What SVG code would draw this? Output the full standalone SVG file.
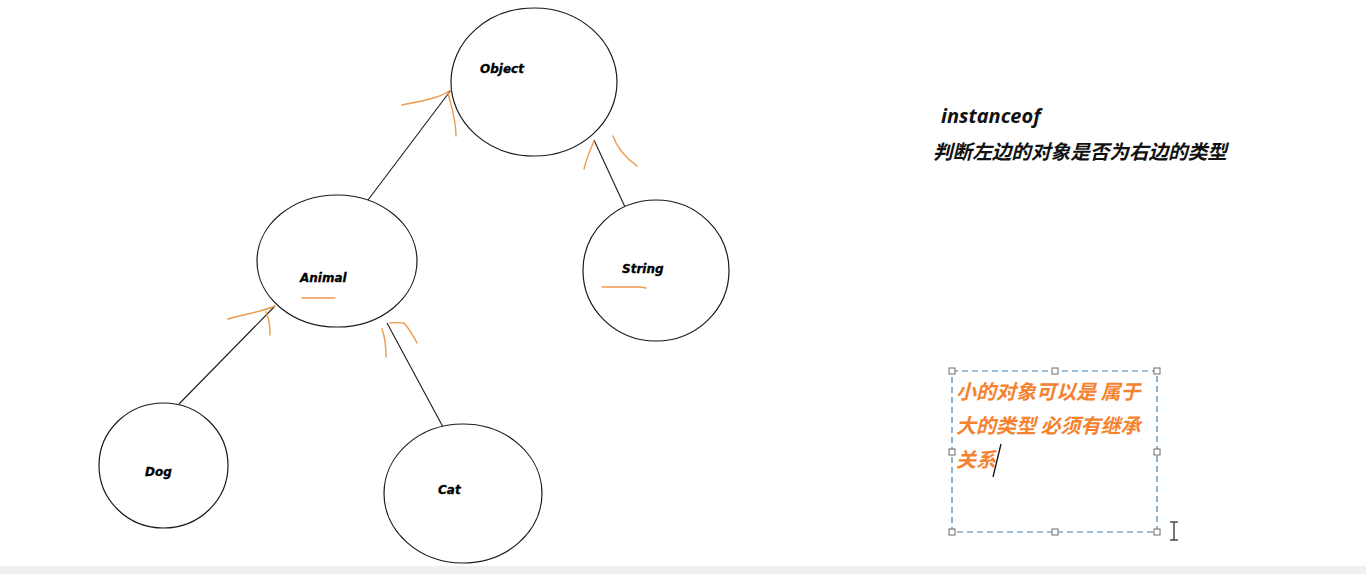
<svg xmlns="http://www.w3.org/2000/svg" width="1366" height="574" viewBox="0 0 1366 574">
  <style>
    .node { fill: #ffffff; stroke: #1a1a1a; stroke-width: 1.2; }
    .label { font-family: "DejaVu Sans", Verdana, sans-serif; font-size: 12px; font-weight: bold; font-style: italic; fill: #000000; stroke: #000000; stroke-width: 0.3; }
    .edge { stroke: #1a1a1a; stroke-width: 1.1; fill: none; }
    .ink { stroke: #ee9a4c; stroke-width: 1.4; fill: none; stroke-linecap: round; stroke-linejoin: round; }
    .note { font-family: "Noto Sans CJK SC", sans-serif; font-size: 20px; font-weight: bold; font-style: italic; fill: #f5822f; }
    .handle { fill: #ffffff; stroke: #6b6b6b; stroke-width: 1; }
  </style>

  <rect x="0" y="0" width="1366" height="574" fill="#ffffff"/>
  <rect x="0" y="566" width="1366" height="8" fill="#f0f0f0"/>

  <!-- inheritance links -->
  <g id="connectors">
    <line class="edge" x1="368" y1="200" x2="451" y2="90"/>
    <line class="edge" x1="594" y1="140" x2="625" y2="207"/>
    <line class="edge" x1="275" y1="306" x2="179" y2="404"/>
    <line class="edge" x1="387" y1="323" x2="443" y2="427"/>
  </g>

  <g id="object">
    <ellipse class="node" cx="534" cy="82" rx="83" ry="74"/>
    <text class="label" x="480" y="73">Object</text>
  </g>
  <g id="animal">
    <ellipse class="node" cx="337" cy="261" rx="80" ry="66"/>
    <text class="label" x="300" y="282">Animal</text>
  </g>
  <g id="string">
    <ellipse class="node" cx="656" cy="270.5" rx="73" ry="70.5"/>
    <text class="label" x="622" y="273">String</text>
  </g>
  <g id="dog">
    <ellipse class="node" cx="163.5" cy="465.5" rx="64.5" ry="62.5"/>
    <text class="label" x="145" y="476">Dog</text>
  </g>
  <g id="cat">
    <ellipse class="node" cx="463" cy="493.5" rx="79" ry="69.5"/>
    <text class="label" x="438" y="494">Cat</text>
  </g>

  <!-- hand-drawn arrow marks and underlines -->
  <g id="marks">
    <path class="ink" d="M402,105 C420,101 438,99 451,90"/>
    <path class="ink" d="M448,93 C451,106 456,118 456,136"/>
    <path class="ink" d="M594,141 C590,150 586,160 584,169"/>
    <path class="ink" d="M613,136 C617,148 626,158 637,166"/>
    <path class="ink" d="M228,319 C244,314 262,312 275,306"/>
    <path class="ink" d="M266,312 C270,320 270,328 270,335"/>
    <path class="ink" d="M382,329 C385,337 386,347 386,357"/>
    <path class="ink" d="M390,323 C396,322 401,323 404,323 C410,330 414,337 417,343"/>
    <path class="ink" d="M302,298 L335,298"/>
    <path class="ink" d="M602,287 L640,287 L646,288"/>
  </g>

  <!-- heading -->
  <g id="heading">
    <text x="941" y="123" font-family="'Open Sans', sans-serif" font-size="20" font-weight="bold" font-style="italic" fill="#111111">instanceof</text>
    <text x="933" y="159" font-family="'Noto Sans CJK SC', sans-serif" font-size="19.6" font-weight="bold" font-style="italic" fill="#111111">判断左边的对象是否为右边的类型</text>
  </g>

  <!-- note text box being edited -->
  <g id="note">
    <rect x="952" y="371" width="205" height="161" fill="none" stroke="#3f80b0" stroke-width="1.2" stroke-dasharray="6,4"/>
    <rect class="handle" x="949" y="368" width="6" height="6"/>
    <rect class="handle" x="1052" y="368" width="6" height="6"/>
    <rect class="handle" x="1154" y="368" width="6" height="6"/>
    <rect class="handle" x="949" y="449" width="6" height="6"/>
    <rect class="handle" x="1154" y="449" width="6" height="6"/>
    <rect class="handle" x="949" y="529" width="6" height="6"/>
    <rect class="handle" x="1052" y="529" width="6" height="6"/>
    <rect class="handle" x="1154" y="529" width="6" height="6"/>
    <text class="note" x="956" y="399">小的对象可以是 属于</text>
    <text class="note" x="956" y="433">大的类型 必须有继承</text>
    <text class="note" x="956" y="467">关系</text>
    <line x1="1001" y1="444" x2="993" y2="477" stroke="#111111" stroke-width="1.3"/>
  </g>

  <!-- I-beam pointer -->
  <g id="pointer" stroke="#222222" stroke-width="1.2" fill="none">
    <line x1="1174" y1="522" x2="1174" y2="540"/>
    <line x1="1170" y1="522" x2="1178" y2="522"/>
    <line x1="1170" y1="540" x2="1178" y2="540"/>
  </g>
</svg>
